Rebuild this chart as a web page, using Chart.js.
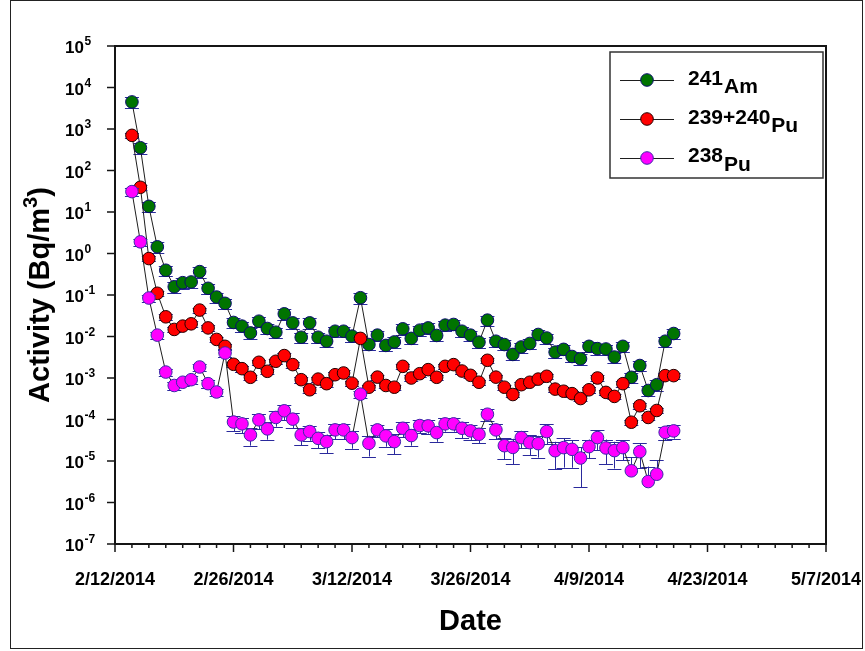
<!DOCTYPE html>
<html><head><meta charset="utf-8">
<script src="https://cdn.jsdelivr.net/npm/chart.js@4/dist/chart.umd.min.js"></script>
<style>html,body{margin:0;padding:0;background:#fff;} #wrap{width:865px;height:651px;position:relative;}</style>
</head><body><div id="wrap"><canvas id="c" width="865" height="651"></canvas></div>
<script>
// ---- data ----
const dates = [
 '2/14/2014','2/15/2014','2/16/2014','2/17/2014','2/18/2014','2/19/2014','2/20/2014','2/21/2014','2/22/2014','2/23/2014',
 '2/24/2014','2/25/2014','2/26/2014','2/27/2014','2/28/2014','3/1/2014','3/2/2014','3/3/2014','3/4/2014','3/5/2014',
 '3/6/2014','3/7/2014','3/8/2014','3/9/2014','3/10/2014','3/11/2014','3/12/2014','3/13/2014','3/14/2014','3/15/2014',
 '3/16/2014','3/17/2014','3/18/2014','3/19/2014','3/20/2014','3/21/2014','3/22/2014','3/23/2014','3/24/2014','3/25/2014',
 '3/26/2014','3/27/2014','3/28/2014','3/29/2014','3/30/2014','3/31/2014','4/1/2014','4/2/2014','4/3/2014','4/4/2014',
 '4/5/2014','4/6/2014','4/7/2014','4/8/2014','4/9/2014','4/10/2014','4/11/2014','4/12/2014','4/13/2014','4/14/2014',
 '4/15/2014','4/16/2014','4/17/2014','4/18/2014','4/19/2014'];

const am241 = [4490, 354, 13.7, 1.45, 0.395, 0.158, 0.198, 0.206, 0.366, 0.145,
 0.0893, 0.063, 0.0218, 0.0178, 0.0122, 0.0234, 0.0156, 0.0127, 0.0352, 0.0213,
 0.0096, 0.0213, 0.0096, 0.0077, 0.0134, 0.0134, 0.0102, 0.086, 0.0064, 0.0108,
 0.0061, 0.0074, 0.0153, 0.0090, 0.0142, 0.0161, 0.0106, 0.0188, 0.0195, 0.0134,
 0.0108, 0.0073, 0.0248, 0.0077, 0.0064, 0.0037, 0.0056, 0.0068, 0.0112, 0.0092,
 0.0042, 0.0049, 0.0033, 0.0029, 0.0058, 0.0051, 0.0050, 0.0032, 0.0058, 0.00104,
 0.0020, 0.00050, 0.00069, 0.0077, 0.0118];

const pu239240 = [703, 39.4, 0.755, 0.110, 0.0298, 0.0148, 0.0178, 0.0202, 0.0433, 0.0161,
 0.0085, 0.0058, 0.00214, 0.00168, 0.00104, 0.00239, 0.00145, 0.00253, 0.00347, 0.00210,
 0.00091, 0.00052, 0.00094, 0.00073, 0.00120, 0.00132, 0.00075, 0.0090, 0.00060, 0.00105,
 0.00066, 0.00060, 0.00191, 0.00100, 0.00127, 0.00159, 0.00104, 0.00191, 0.00210, 0.00147,
 0.00116, 0.00079, 0.00267, 0.00105, 0.00060, 0.00040, 0.00069, 0.00079, 0.00094, 0.00110,
 0.00054, 0.00048, 0.00042, 0.00032, 0.00052, 0.00100, 0.00045, 0.00036, 0.00073, 0.000086,
 0.000214, 0.000112, 0.000165, 0.00114, 0.00114];

const pu238 = [31, 1.91, 0.0845, 0.0108, 0.00139, 0.00066, 0.00079, 0.00091, 0.00184, 0.00073,
 0.00046, 0.0040, 8.7e-5, 7.85e-5, 4.26e-5, 9.82e-5, 5.94e-5, 1.12e-4, 1.62e-4, 1.02e-4,
 4.26e-5, 5.12e-5, 3.52e-5, 2.93e-5, 5.62e-5, 5.62e-5, 3.66e-5, 4.08e-4, 2.67e-5, 5.62e-5,
 4.03e-5, 2.93e-5, 6.15e-5, 4.10e-5, 7.14e-5, 7.02e-5, 4.84e-5, 7.85e-5, 7.85e-5, 6.15e-5,
 5.32e-5, 4.41e-5, 1.34e-4, 5.62e-5, 2.34e-5, 2.13e-5, 3.66e-5, 2.77e-5, 2.62e-5, 5.12e-5,
 1.77e-5, 2.10e-5, 1.91e-5, 1.18e-5, 2.22e-5, 3.66e-5, 2.06e-5, 1.78e-5, 2.10e-5, 5.8e-6,
 1.68e-5, 3.2e-6, 4.8e-6, 4.92e-5, 5.32e-5];

// relative uncertainties (fraction of value)
const am241RelErr = 0.28;
const pu239240RelErr = 0.15;
const pu238RelErr = [0.2,0.2,0.2,0.2,0.2,0.2,0.2,0.2,0.2,0.2,
 0.2,0.2,0.4,0.4,0.45,0.4,0.45,0.4,0.4,0.4,
 0.43,0.4,0.43,0.48,0.4,0.4,0.46,0.2,0.52,0.33,
 0.45,0.5,0.4,0.43,0.35,0.35,0.4,0.35,0.35,0.43,
 0.4,0.4,0.3,0.4,0.53,0.61,0.45,0.5,0.54,0.5,
 0.64,0.67,0.64,0.8,0.48,0.5,0.6,0.63,0.5,1.1,
 0.6,1.3,1.2,0.35,0.35];

const xTickLabels = ['2/12/2014','2/26/2014','3/12/2014','3/26/2014','4/9/2014','4/23/2014','5/7/2014'];
const yTickExponents = [5,4,3,2,1,0,-1,-2,-3,-4,-5,-6,-7];
const seriesSup = ['241','239+240','238'];
const seriesSub = ['Am','Pu','Pu'];
const xTitle = 'Date';
const yTitleParts = ['Activity (Bq/m', '3', ')'];

// ---- helpers ----
const FONT = '"Liberation Sans", Arial, Helvetica, sans-serif';
const ORIGIN = Date.UTC(2014, 1, 12);
function dayNum(s) {
  const p = s.split('/').map(Number);
  return Math.round((Date.UTC(p[2], p[0] - 1, p[1]) - ORIGIN) / 86400000);
}
const xMin = dayNum(xTickLabels[0]);
const xMax = dayNum(xTickLabels[xTickLabels.length - 1]);

const colors = [
  {fill: '#007400', border: '#0a0a70'},
  {fill: '#ff0000', border: '#220000'},
  {fill: '#ff00ff', border: '#3a2aa8'}
];
const errColor = '#2a2a9c';

function makeDs(idx, vals, errs, order) {
  return {
    label: seriesSup[idx] + seriesSub[idx],
    data: dates.map((d, i) => ({x: dayNum(d), y: vals[i]})),
    errs: errs,
    borderColor: '#1e1e1e', borderWidth: 1,
    backgroundColor: colors[idx].fill,
    pointBackgroundColor: colors[idx].fill,
    pointBorderColor: colors[idx].border,
    pointBorderWidth: 1, pointRadius: 6.3, pointHoverRadius: 6.3,
    showLine: true, tension: 0, fill: false, order: order
  };
}

const errorBars = {
  id: 'errorBars',
  beforeDatasetDraw(chart, args) {
    const ds = chart.data.datasets[args.index];
    const meta = chart.getDatasetMeta(args.index);
    const ys = chart.scales.y;
    const ctx = chart.ctx;
    ctx.save();
    ctx.strokeStyle = errColor; ctx.lineWidth = 1;
    ds.data.forEach((p, i) => {
      const r = Array.isArray(ds.errs) ? ds.errs[i] : ds.errs;
      const e = p.y * r;
      const px = meta.data[i].x;
      const top = ys.getPixelForValue(p.y + e);
      const lowV = p.y - e;
      const bot = lowV > 0 ? ys.getPixelForValue(lowV) : null;
      ctx.beginPath();
      ctx.moveTo(Math.round(px) + 0.5, top);
      ctx.lineTo(Math.round(px) + 0.5, bot !== null ? bot : meta.data[i].y);
      ctx.moveTo(px - 7, Math.round(top) + 0.5); ctx.lineTo(px + 7, Math.round(top) + 0.5);
      if (bot !== null) { ctx.moveTo(px - 7, Math.round(bot) + 0.5); ctx.lineTo(px + 7, Math.round(bot) + 0.5); }
      ctx.stroke();
    });
    ctx.restore();
  }
};

const decor = {
  id: 'decor',
  afterDraw(chart) {
    const ctx = chart.ctx, a = chart.chartArea;
    const xs = chart.scales.x, ys = chart.scales.y;
    ctx.save();
    // figure border
    ctx.strokeStyle = '#222'; ctx.lineWidth = 1;
    ctx.strokeRect(10.5, 0.5, 852, 648);
    // plot frame
    ctx.strokeStyle = '#151515'; ctx.lineWidth = 2;
    ctx.strokeRect(a.left, a.top, a.right - a.left, a.bottom - a.top);
    // y ticks and labels
    ctx.lineWidth = 1.5;
    ctx.fillStyle = '#000';
    yTickExponents.forEach(ex => {
      const y = ys.getPixelForValue(Math.pow(10, ex));
      ctx.beginPath(); ctx.moveTo(a.left, y); ctx.lineTo(a.left - 8, y); ctx.stroke();
      ctx.font = 'bold 17px ' + FONT;
      ctx.textAlign = 'left'; ctx.textBaseline = 'alphabetic';
      ctx.fillText('10', 65, y + 7);
      const w = ctx.measureText('10').width;
      ctx.font = 'bold 12px ' + FONT;
      ctx.fillText(String(ex).replace('-', '-'), 65 + w + 0.5, y - 1);
    });
    // x ticks
    for (let d = xMin; d <= xMax; d += 2) {
      const x = xs.getPixelForValue(d);
      const major = (d - xMin) % 14 === 0;
      ctx.beginPath(); ctx.moveTo(x, a.bottom); ctx.lineTo(x, a.bottom + (major ? 8 : 4)); ctx.stroke();
    }
    ctx.font = 'bold 18px ' + FONT;
    ctx.textAlign = 'center'; ctx.textBaseline = 'alphabetic';
    xTickLabels.forEach(lbl => {
      const x = xs.getPixelForValue(dayNum(lbl));
      ctx.fillText(lbl, x, 585);
    });
    // x title
    ctx.font = 'bold 29px ' + FONT;
    ctx.fillText(xTitle, (a.left + a.right) / 2, 630);
    // y title (rotated)
    ctx.save();
    ctx.translate(49, 295);
    ctx.rotate(-Math.PI / 2);
    ctx.textAlign = 'left';
    ctx.font = 'bold 29px ' + FONT;
    const w1 = ctx.measureText(yTitleParts[0]).width;
    ctx.font = 'bold 20px ' + FONT;
    const w2 = ctx.measureText(yTitleParts[1]).width;
    ctx.font = 'bold 29px ' + FONT;
    const w3 = ctx.measureText(yTitleParts[2]).width;
    let sx = -(w1 + w2 + w3) / 2;
    ctx.fillText(yTitleParts[0], sx, 0);
    ctx.font = 'bold 20px ' + FONT;
    ctx.fillText(yTitleParts[1], sx + w1, -12);
    ctx.font = 'bold 29px ' + FONT;
    ctx.fillText(yTitleParts[2], sx + w1 + w2, 0);
    ctx.restore();
    // legend
    ctx.strokeStyle = '#333'; ctx.lineWidth = 1.5;
    ctx.strokeRect(610, 52, 213, 126);
    const rows = [80, 119, 158];
    const supBase = [85, 124, 162];
    const subBase = [93, 132, 171];
    const order = [0, 1, 2];
    order.forEach((k, r) => {
      const y = rows[r];
      ctx.strokeStyle = '#1e1e1e'; ctx.lineWidth = 1;
      ctx.beginPath(); ctx.moveTo(620, y + 0.5); ctx.lineTo(674, y + 0.5); ctx.stroke();
      ctx.beginPath(); ctx.arc(647, y, 6.3, 0, Math.PI * 2);
      ctx.fillStyle = colors[k].fill; ctx.fill();
      ctx.strokeStyle = colors[k].border; ctx.stroke();
      ctx.fillStyle = '#000';
      ctx.textAlign = 'left';
      ctx.font = 'bold 21px ' + FONT;
      ctx.fillText(seriesSup[k], 688, supBase[r]);
      const sw = ctx.measureText(seriesSup[k]).width;
      ctx.fillText(seriesSub[k], 688 + sw + 1, subBase[r]);
    });
    ctx.restore();
  }
};

new Chart(document.getElementById('c').getContext('2d'), {
  type: 'line',
  data: {datasets: [
    makeDs(0, am241, am241RelErr, 2),
    makeDs(1, pu239240, pu239240RelErr, 1),
    makeDs(2, pu238, pu238RelErr, 0)
  ]},
  options: {
    responsive: false, animation: false, events: [],
    layout: {padding: {left: 115, right: 39, top: 46, bottom: 107}},
    plugins: {legend: {display: false}, tooltip: {enabled: false}},
    scales: {
      x: {type: 'linear', min: xMin, max: xMax, display: false},
      y: {type: 'logarithmic', min: 1e-7, max: 1e5, display: false}
    }
  },
  plugins: [errorBars, decor]
});
</script>
</body></html>
